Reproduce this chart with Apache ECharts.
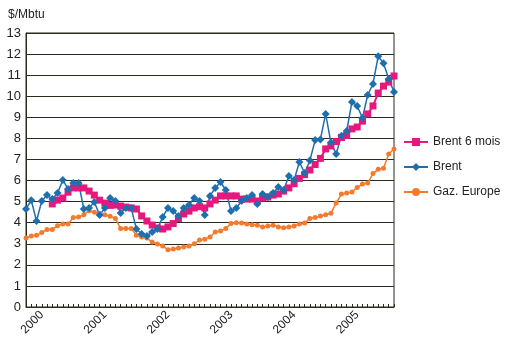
<!DOCTYPE html>
<html>
<head>
<meta charset="utf-8">
<script src="https://cdn.jsdelivr.net/npm/echarts@6/dist/echarts.min.js"></script>
<style>
  html, body { margin: 0; padding: 0; background: #fff; }
  #chart { width: 525px; height: 349px; }
</style>
</head>
<body>
<div id="chart"></div>
<script>
// Monthly prices, January 2000 to November 2005, in $/Mbtu
const years = ['2000', '2001', '2002', '2003', '2004', '2005'];
const months = [];
years.forEach(y => {
  for (let m = 1; m <= 12; m++) {
    if (y === '2005' && m === 12) break;
    months.push(y + '-' + String(m).padStart(2, '0'));
  }
});

const brent = [
  4.65, 5.07, 4.08, 5.03, 5.31, 5.12, 5.41, 6.02, 5.6, 5.88,
  5.88, 4.65, 4.7, 4.98, 4.36, 4.7, 5.17, 5.03, 4.46, 4.7,
  4.7, 3.7, 3.46, 3.37, 3.56, 3.7, 4.27, 4.7, 4.55, 4.32,
  4.7, 4.84, 5.17, 5.03, 4.36, 5.27, 5.65, 5.93, 5.55, 4.55,
  4.7, 5.03, 5.17, 5.31, 4.89, 5.36, 5.22, 5.41, 5.69, 5.55,
  6.21, 6.02, 6.88, 6.36, 6.95, 7.92, 7.95, 9.16, 7.8, 7.26,
  8.13, 8.35, 9.73, 9.54, 8.97, 10.06, 10.58, 11.9, 11.57, 10.82,
  10.2
];

const brent6m = [
  null, null, null, null, null, 4.89, 5.07, 5.17, 5.45, 5.65,
  5.65, 5.65, 5.5, 5.31, 5.07, 4.93, 4.82, 4.84, 4.79, 4.74,
  4.7, 4.65, 4.32, 4.08, 3.89, 3.75, 3.7, 3.8, 3.96, 4.2,
  4.41, 4.55, 4.7, 4.76, 4.7, 4.89, 5.07, 5.27, 5.27, 5.27,
  5.27, 5.12, 5.12, 5.12, 5.03, 5.17, 5.22, 5.31, 5.36, 5.5,
  5.65, 5.85, 6.1, 6.28, 6.5, 6.76, 7.05, 7.5, 7.64, 7.85,
  8.04, 8.14, 8.45, 8.54, 8.82, 9.16, 9.54, 10.15, 10.48, 10.67,
  10.96
];

const gazEurope = [
  3.27, 3.37, 3.41, 3.53, 3.68, 3.68, 3.85, 3.94, 3.94, 4.25,
  4.27, 4.38, 4.57, 4.5, 4.44, 4.38, 4.3, 4.2, 3.72, 3.72,
  3.72, 3.41, 3.32, 3.27, 3.08, 2.99, 2.89, 2.72, 2.75, 2.8,
  2.85, 2.89, 3.0, 3.18, 3.22, 3.32, 3.56, 3.6, 3.72, 3.96,
  4.0, 3.98, 3.94, 3.9, 3.88, 3.8, 3.84, 3.88, 3.8, 3.76,
  3.8, 3.84, 3.94, 3.98, 4.2, 4.25, 4.32, 4.38, 4.45, 4.93,
  5.36, 5.41, 5.46, 5.67, 5.83, 5.88, 6.33, 6.53, 6.58, 7.26,
  7.5
];

const seriesNames = ['Brent 6 mois', 'Brent', 'Gaz. Europe'];
const colors = { brent6m: '#e6177d', brent: '#1f6fae', gaz: '#f47b2e' };
const font = 'Liberation Sans, Arial, Helvetica, sans-serif';
const ink = '#2b2b1e';

const chart = echarts.init(document.getElementById('chart'), null, { renderer: 'canvas' });

chart.setOption({
  animation: false,
  backgroundColor: '#fff',
  title: {
    text: '$/Mbtu',
    left: 3,
    top: 4,
    textStyle: { fontFamily: font, fontSize: 12, fontWeight: 'normal', color: '#222' }
  },
  legend: {
    data: seriesNames,
    orient: 'vertical',
    left: 398,
    top: 131,
    itemWidth: 24,
    itemHeight: 10,
    itemGap: 13,
    textStyle: { fontFamily: font, fontSize: 12, color: '#222' }
  },
  grid: {
    left: 26, right: 131, top: 33, bottom: 42,
    show: true, borderColor: ink, borderWidth: 1, backgroundColor: '#fff'
  },
  xAxis: {
    type: 'category',
    data: months,
    boundaryGap: false,
    axisLine: { lineStyle: { color: ink, width: 1 } },
    axisTick: { show: true, inside: true, interval: 0, length: 3, lineStyle: { color: ink } },
    axisLabel: {
      interval: (i) => i % 12 === 3,
      formatter: (v) => v.slice(0, 4),
      rotate: 45,
      margin: 6,
      fontFamily: font,
      fontSize: 12,
      color: '#222'
    },
    splitLine: { show: false }
  },
  yAxis: {
    type: 'value',
    min: 0,
    max: 13,
    interval: 1,
    axisLine: { show: true, lineStyle: { color: ink } },
    axisTick: { show: false },
    axisLabel: { fontFamily: font, fontSize: 13, color: '#222', margin: 5 },
    splitLine: { lineStyle: { color: ink, width: 1 } }
  },
  series: [
    {
      name: 'Gaz. Europe',
      type: 'line',
      data: gazEurope,
      color: colors.gaz,
      symbol: 'circle',
      symbolSize: 5,
      showAllSymbol: true,
      lineStyle: { width: 1.5, color: colors.gaz },
      itemStyle: { color: colors.gaz }
    },
    {
      name: 'Brent 6 mois',
      type: 'line',
      data: brent6m,
      color: colors.brent6m,
      symbol: 'rect',
      symbolSize: 7,
      showAllSymbol: true,
      lineStyle: { width: 2, color: colors.brent6m },
      itemStyle: { color: colors.brent6m }
    },
    {
      name: 'Brent',
      type: 'line',
      data: brent,
      color: colors.brent,
      symbol: 'diamond',
      symbolSize: 8,
      showAllSymbol: true,
      lineStyle: { width: 1.5, color: colors.brent },
      itemStyle: { color: colors.brent }
    }
  ]
});
</script>
</body>
</html>
